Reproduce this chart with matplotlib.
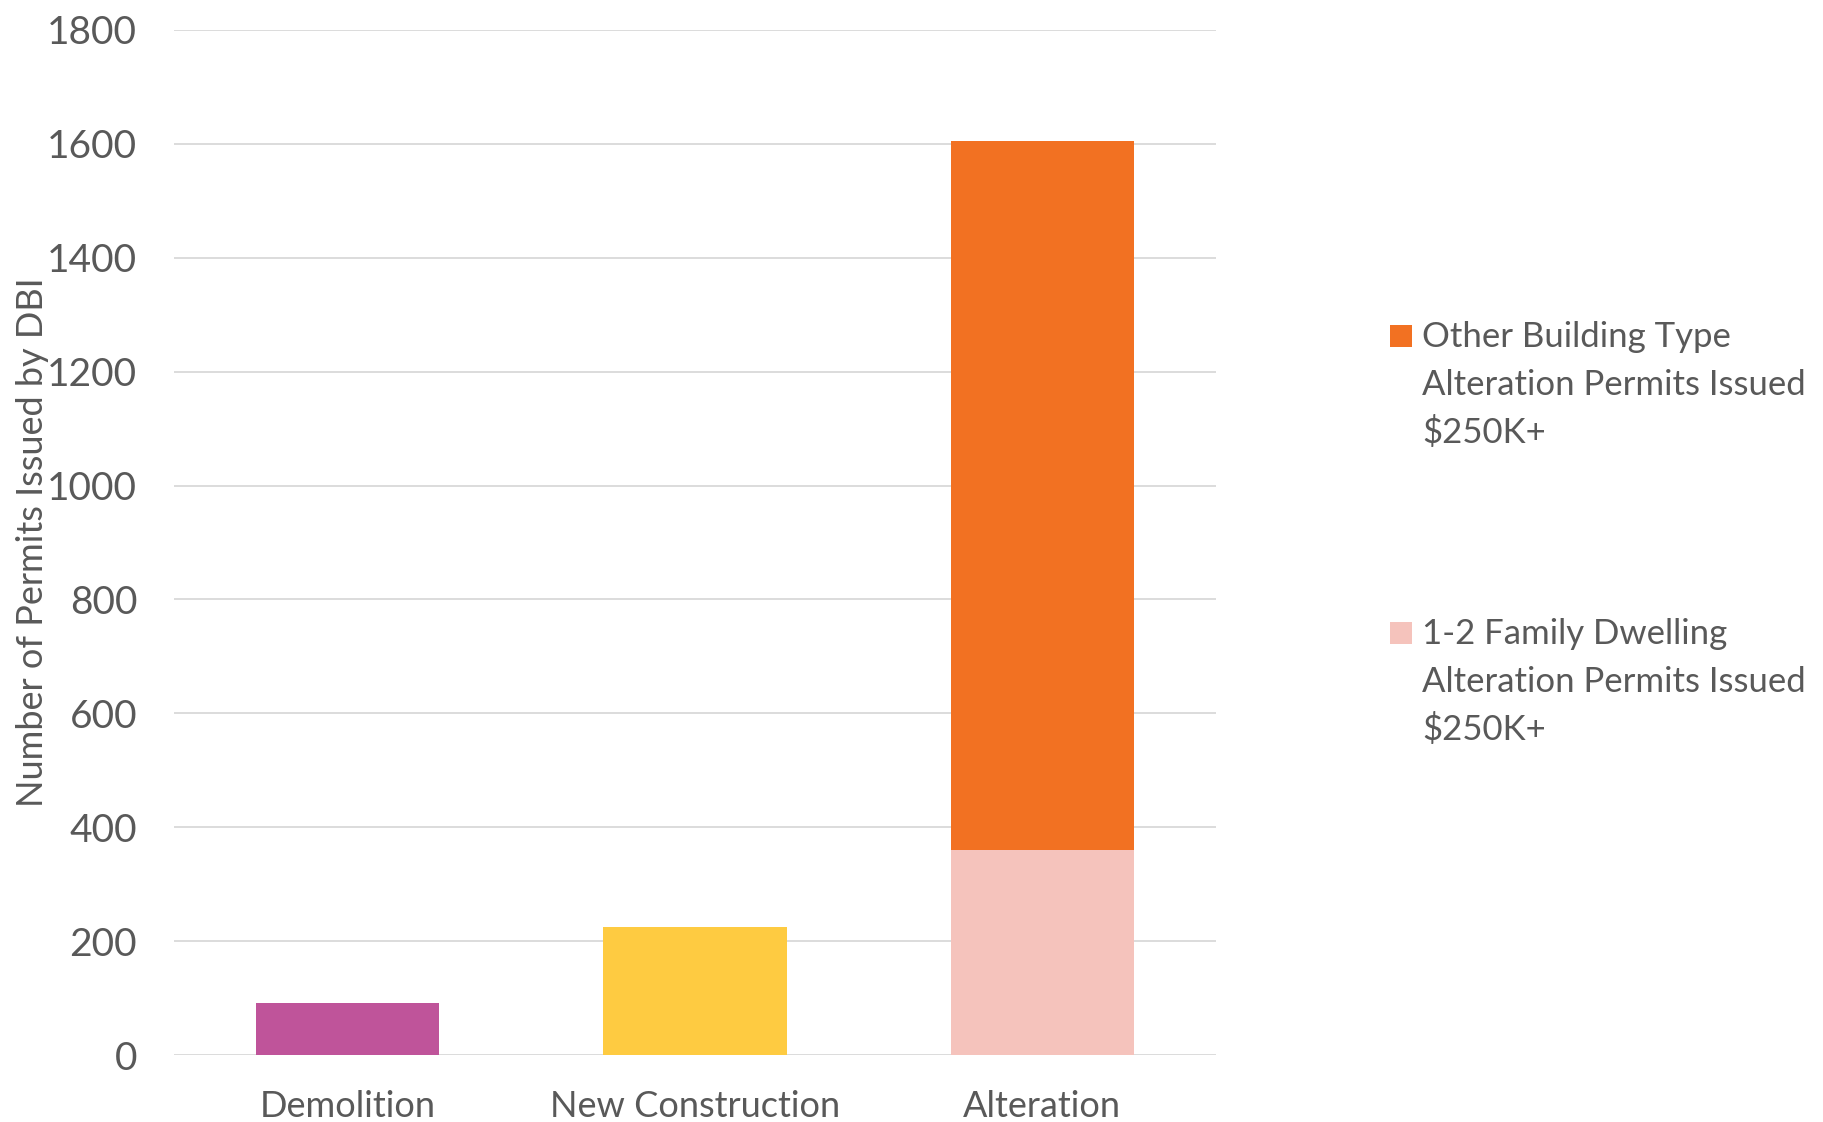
import matplotlib
matplotlib.use("Agg")
import matplotlib.pyplot as plt
from matplotlib.patches import Rectangle

plt.rcParams['font.family'] = ['Lato', 'DejaVu Sans']

# ---- data ----
categories = ["Demolition", "New Construction", "Alteration"]
single_values = [91, 224, None]          # Demolition, New Construction
family_alteration = [0, 0, 360]          # 1-2 Family Dwelling Alteration Permits $250K+
other_alteration = [0, 0, 1245]          # Other Building Type Alteration Permits $250K+
yticks = [0, 200, 400, 600, 800, 1000, 1200, 1400, 1600, 1800]
ylabel = "Number of Permits Issued by DBI"
legend_labels = [
    ["Other Building Type", "Alteration Permits Issued", "$250K+"],
    ["1-2 Family Dwelling", "Alteration Permits Issued", "$250K+"],
]

# ---- styles ----
TEXT = "#595959"
GRID = "#D9D9D9"
c_demo = "#BF549A"
c_new = "#FECB41"
c_family = "#F5C3BC"
c_other = "#F27122"

W, H = 1824, 1122
fig = plt.figure(figsize=(W / 100, H / 100), dpi=100)
ax = fig.add_axes([174 / W, 1 - 1055 / H, (1216 - 174) / W, (1055 - 30) / H])

x = list(range(len(categories)))
bw = 0.527
ax.bar(x[0], single_values[0], width=bw, color=c_demo, zorder=2)
ax.bar(x[1], single_values[1], width=bw, color=c_new, zorder=2)
ax.bar(x[2], family_alteration[2], width=bw, color=c_family, zorder=2)
ax.bar(x[2], other_alteration[2], bottom=family_alteration[2], width=bw,
       color=c_other, zorder=2)

ax.set_xlim(-0.5, 2.5)
ax.set_ylim(0, 1800)
ax.set_yticks(yticks)
ax.set_yticklabels([str(v) for v in yticks])
ax.set_xticks(x)
ax.set_xticklabels(categories)
ax.grid(axis="y", color=GRID, linewidth=1.3, zorder=0)
ax.set_axisbelow(True)
for s in ax.spines.values():
    s.set_visible(False)
ax.tick_params(axis="y", length=0, pad=26.5, labelsize=28, labelcolor=TEXT)
ax.tick_params(axis="x", length=0, pad=25, labelsize=26, labelcolor=TEXT)
for lbl in ax.get_yticklabels():
    lbl.set_va("center_baseline")

ax.set_ylabel(ylabel, fontsize=26, color=TEXT, va="center", ha="center")
ax.yaxis.set_label_coords((33 - 174) / (1216 - 174), 0.5)

# ---- legend (first line aligned with marker) ----
colors = [c_other, c_family]
first_baselines = [347, 644]
pitch = 48
for lines, col, yb in zip(legend_labels, colors, first_baselines):
    fig.add_artist(Rectangle((1390 / W, 1 - yb / H), 22 / W, 22 / H,
                             transform=fig.transFigure, color=col, lw=0))
    for i, t in enumerate(lines):
        fig.text(1422 / W, 1 - (yb + i * pitch) / H, t, fontsize=25,
                 color=TEXT, ha="left", va="baseline")

fig.savefig("out.png", dpi=100, facecolor="white")
